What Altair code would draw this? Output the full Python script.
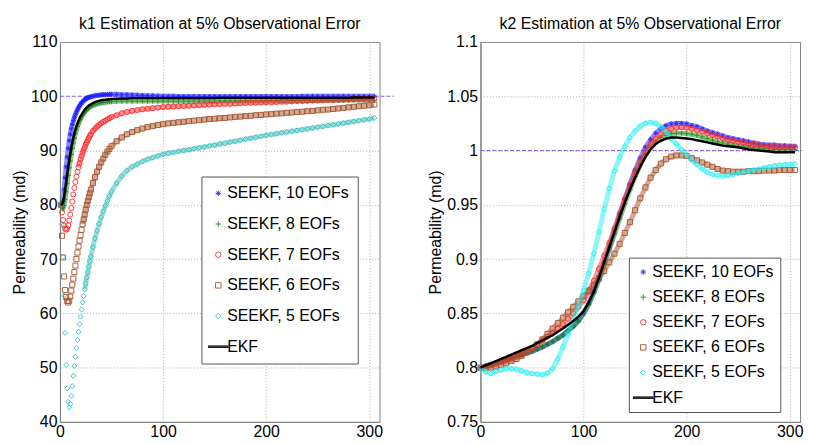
import altair as alt
import pandas as pd

FONT = "Liberation Sans"
FS = 16

SERIES = ["SEEKF, 10 EOFs", "SEEKF, 8 EOFs", "SEEKF, 7 EOFs", "SEEKF, 6 EOFs", "SEEKF, 5 EOFs", "EKF"]

# ---------------- k1 panel (left) ----------------
T_LEFT = list(range(1, 31)) + list(range(32, 51, 2)) + list(range(55, 306, 5))

K1_10 = [80.0, 79.8, 80.6, 82.8, 85.0, 87.0, 88.8, 90.4, 91.8, 93.0,
         94.0, 94.8, 95.5, 96.1, 96.6, 97.1, 97.5, 97.9, 98.2, 98.5,
         98.8, 99.0, 99.2, 99.35, 99.5, 99.6, 99.7, 99.8, 99.85, 99.9,
         100.0, 100.1, 100.15, 100.2, 100.25, 100.3, 100.3, 100.3, 100.35, 100.35,
         100.35, 100.3, 100.3, 100.25, 100.2, 100.15, 100.1, 100.1, 100.05, 100.0,
         100.0, 100.0, 99.95, 99.95, 99.95, 99.95, 99.95, 99.95, 99.95, 99.95,
         99.95, 99.95, 99.95, 99.95, 99.95, 99.95, 99.95, 99.95, 99.95, 99.95,
         99.95, 99.95, 99.95, 99.95, 99.95, 99.95, 100.0, 100.0, 100.0, 100.0,
         100.0, 100.0, 100.0, 100.0, 100.0, 100.0, 100.0, 100.0, 100.0, 100.0, 100.0]
K1_8 = [80.0, 79.6, 79.4, 79.9, 81.0, 82.4, 83.9, 85.4, 86.8, 88.1,
        89.3, 90.4, 91.4, 92.3, 93.1, 93.8, 94.4, 94.9, 95.4, 95.8,
        96.2, 96.5, 96.8, 97.1, 97.3, 97.5, 97.7, 97.85, 98.0, 98.1,
        98.3, 98.45, 98.6, 98.7, 98.8, 98.85, 98.9, 98.95, 99.0, 99.0,
        99.05, 99.1, 99.1, 99.1, 99.1, 99.1, 99.1, 99.1, 99.1, 99.1,
        99.1, 99.1, 99.1, 99.1, 99.1, 99.1, 99.1, 99.1, 99.1, 99.1,
        99.15, 99.15, 99.15, 99.15, 99.15, 99.15, 99.15, 99.15, 99.15, 99.15,
        99.2, 99.2, 99.2, 99.2, 99.2, 99.2, 99.2, 99.2, 99.2, 99.2,
        99.25, 99.25, 99.25, 99.25, 99.25, 99.3, 99.3, 99.3, 99.3, 99.3, 99.3]
K1_7 = [80.0, 78.6, 77.2, 76.2, 75.6, 75.4, 75.6, 76.2, 77.1, 78.2,
        79.4, 80.6, 81.9, 83.1, 84.2, 85.2, 86.1, 86.9, 87.7, 88.4,
        89.0, 89.6, 90.1, 90.6, 91.1, 91.5, 91.9, 92.3, 92.7, 93.0,
        93.6, 94.0, 94.4, 94.75, 95.0, 95.3, 95.5, 95.75, 95.95, 96.15,
        96.5, 96.85, 97.1, 97.3, 97.45, 97.6, 97.7, 97.8, 97.9, 98.0,
        98.05, 98.1, 98.15, 98.2, 98.25, 98.3, 98.35, 98.4, 98.45, 98.5,
        98.55, 98.6, 98.6, 98.65, 98.7, 98.75, 98.8, 98.8, 98.85, 98.9,
        98.9, 98.95, 99.0, 99.0, 99.05, 99.1, 99.1, 99.15, 99.2, 99.2,
        99.25, 99.3, 99.3, 99.35, 99.4, 99.4, 99.45, 99.45, 99.5, 99.5, 99.5]
K1_6 = [80.0, 74.3, 70.3, 66.8, 64.3, 63.0, 62.3, 62.0, 62.3, 63.1,
        64.2, 65.3, 66.4, 67.6, 68.8, 70.0, 71.2, 72.3, 73.4, 74.4,
        75.4, 76.4, 77.3, 78.2, 79.1, 80.0, 80.7, 81.4, 82.1, 82.8,
        84.0, 85.1, 86.1, 87.0, 87.8, 88.5, 89.2, 89.8, 90.3, 90.8,
        91.7, 92.4, 93.0, 93.4, 93.75, 94.05, 94.3, 94.5, 94.7, 94.85,
        95.0, 95.1, 95.2, 95.3, 95.4, 95.5, 95.6, 95.7, 95.8, 95.85,
        95.95, 96.0, 96.1, 96.2, 96.25, 96.35, 96.4, 96.5, 96.55, 96.65,
        96.7, 96.8, 96.85, 96.95, 97.0, 97.1, 97.15, 97.25, 97.3, 97.4,
        97.5, 97.55, 97.65, 97.75, 97.85, 97.95, 98.05, 98.15, 98.25, 98.35, 98.45]
K1_5 = [80.0, 76.4, 70.4, 63.3, 56.4, 50.5, 46.2, 43.7, 42.7, 43.3,
        44.8, 46.6, 48.5, 50.3, 52.0, 53.6, 55.1, 56.6, 58.0, 59.4,
        60.7, 62.0, 63.2, 64.4, 65.5, 66.6, 67.6, 68.6, 69.6, 70.5,
        72.2, 73.8, 75.2, 76.5, 77.7, 78.8, 79.8, 80.7, 81.6, 82.4,
        84.0, 85.3, 86.3, 87.0, 87.5, 88.0, 88.4, 88.7, 89.0, 89.3,
        89.5, 89.65, 89.85, 90.0, 90.15, 90.35, 90.5, 90.65, 90.85, 91.0,
        91.2, 91.35, 91.55, 91.7, 91.9, 92.1, 92.25, 92.45, 92.6, 92.8,
        92.95, 93.1, 93.25, 93.4, 93.55, 93.7, 93.85, 94.0, 94.15, 94.3,
        94.45, 94.6, 94.75, 94.9, 95.05, 95.2, 95.35, 95.5, 95.65, 95.8, 96.0]
K1_EKF = [80.0, 80.1, 80.6, 81.5, 82.7, 84.1, 85.5, 86.9, 88.2, 89.4,
          90.5, 91.5, 92.4, 93.2, 93.9, 94.5, 95.0, 95.5, 95.9, 96.3,
          96.6, 96.9, 97.2, 97.5, 97.7, 97.9, 98.1, 98.3, 98.4, 98.5,
          98.75, 98.9, 99.05, 99.15, 99.25, 99.3, 99.35, 99.4, 99.45, 99.5,
          99.55, 99.6, 99.6, 99.65, 99.65, 99.65, 99.65, 99.65, 99.65, 99.65,
          99.65, 99.65, 99.65, 99.65, 99.65, 99.65, 99.65, 99.65, 99.65, 99.65,
          99.7, 99.7, 99.7, 99.7, 99.7, 99.7, 99.7, 99.7, 99.7, 99.7,
          99.7, 99.7, 99.7, 99.7, 99.7, 99.7, 99.7, 99.7, 99.7, 99.7,
          99.7, 99.7, 99.7, 99.7, 99.7, 99.7, 99.75, 99.75, 99.75, 99.75, 99.75]

# ---------------- k2 panel (right) ----------------
T_RIGHT = list(range(0, 306, 5))

K2_10 = [0.800, 0.8015, 0.803, 0.8045, 0.806, 0.8075, 0.809, 0.8105, 0.812, 0.8135,
         0.815, 0.817, 0.819, 0.8215, 0.824, 0.827, 0.830, 0.834, 0.838, 0.843,
         0.850, 0.859, 0.870, 0.883, 0.897, 0.911, 0.926, 0.941, 0.955, 0.969,
         0.982, 0.993, 1.003, 1.010, 1.016, 1.020, 1.023, 1.0245, 1.025, 1.025,
         1.0245, 1.023, 1.022, 1.020, 1.018, 1.0165, 1.015, 1.0135, 1.012, 1.011,
         1.010, 1.009, 1.008, 1.007, 1.006, 1.0055, 1.005, 1.005, 1.0045, 1.0045,
         1.004, 1.004]
K2_8 = [0.800, 0.8015, 0.803, 0.8045, 0.806, 0.8075, 0.809, 0.8105, 0.812, 0.8135,
        0.815, 0.817, 0.819, 0.8215, 0.824, 0.827, 0.830, 0.834, 0.838, 0.843,
        0.850, 0.858, 0.869, 0.881, 0.895, 0.909, 0.923, 0.937, 0.951, 0.964,
        0.976, 0.987, 0.996, 1.003, 1.008, 1.012, 1.014, 1.0155, 1.016, 1.016,
        1.0155, 1.015, 1.014, 1.0125, 1.011, 1.0095, 1.008, 1.007, 1.006, 1.005,
        1.004, 1.0035, 1.003, 1.0025, 1.002, 1.0015, 1.0015, 1.001, 1.001, 1.001,
        1.001, 1.001]
K2_7 = [0.800, 0.801, 0.802, 0.8035, 0.805, 0.8065, 0.808, 0.810, 0.812, 0.815,
        0.818, 0.8215, 0.825, 0.8285, 0.832, 0.836, 0.840, 0.845, 0.850, 0.856,
        0.862, 0.870, 0.880, 0.891, 0.903, 0.915, 0.928, 0.942, 0.955, 0.968,
        0.980, 0.990, 0.999, 1.006, 1.011, 1.015, 1.018, 1.020, 1.021, 1.0215,
        1.021, 1.020, 1.019, 1.0175, 1.016, 1.0145, 1.013, 1.0115, 1.010, 1.009,
        1.008, 1.007, 1.006, 1.0055, 1.005, 1.0045, 1.004, 1.0035, 1.003, 1.003,
        1.003, 1.003]
K2_6 = [0.800, 0.7995, 0.800, 0.801, 0.8025, 0.804, 0.806, 0.808, 0.811, 0.814,
        0.8175, 0.8215, 0.826, 0.831, 0.836, 0.841, 0.846, 0.851, 0.856, 0.861,
        0.866, 0.871, 0.876, 0.882, 0.889, 0.897, 0.905, 0.914, 0.924, 0.934,
        0.945, 0.956, 0.966, 0.975, 0.982, 0.988, 0.992, 0.9945, 0.9955, 0.9955,
        0.995, 0.993, 0.991, 0.989, 0.987, 0.985, 0.983, 0.9815, 0.981, 0.9805,
        0.9805, 0.9805, 0.981, 0.981, 0.981, 0.9815, 0.9815, 0.9815, 0.982, 0.982,
        0.982, 0.982]
K2_5 = [0.800, 0.796, 0.7945, 0.7965, 0.798, 0.799, 0.799, 0.7985, 0.797, 0.7955,
        0.7945, 0.794, 0.7935, 0.795, 0.799, 0.808, 0.819, 0.831, 0.844, 0.857,
        0.871, 0.887, 0.905, 0.925, 0.946, 0.965, 0.981, 0.994, 1.004, 1.012,
        1.018, 1.0225, 1.025, 1.026, 1.025, 1.022, 1.017, 1.011, 1.006, 1.001,
        0.996, 0.991, 0.987, 0.983, 0.980, 0.978, 0.977, 0.9765, 0.977, 0.978,
        0.979, 0.980, 0.981, 0.982, 0.983, 0.984, 0.985, 0.986, 0.9865, 0.987,
        0.987, 0.9875]
K2_EKF = [0.800, 0.802, 0.804, 0.806, 0.808, 0.810, 0.812, 0.814, 0.816, 0.818,
          0.820, 0.8225, 0.825, 0.8275, 0.830, 0.833, 0.836, 0.8395, 0.843, 0.847,
          0.852, 0.860, 0.870, 0.883, 0.897, 0.911, 0.925, 0.939, 0.952, 0.964,
          0.975, 0.985, 0.994, 1.001, 1.006, 1.009, 1.011, 1.012, 1.012, 1.0115,
          1.011, 1.0105, 1.0095, 1.0085, 1.0075, 1.0065, 1.0055, 1.0045, 1.004, 1.0035,
          1.003, 1.002, 1.001, 1.0005, 1.0, 0.9995, 0.999, 0.9985, 0.9985, 0.9985,
          0.9985, 0.9985]

K1_TICKS = [40, 50, 60, 70, 80, 90, 100, 110]
K2_TICKS = [0.75, 0.8, 0.85, 0.9, 0.95, 1.0, 1.05, 1.1]
X_TICKS = [0, 100, 200, 300]
TRUE_K1 = 100
TRUE_K2 = 1.0

COLORS_L = ["#1f1fff", "#1a8c1a", "#ff2a2a", "#a5522a", "#35bcbc", "#000000"]
COLORS_R = ["#1f1fff", "#1a8c1a", "#ff2a2a", "#a5522a", "#1ef0f0", "#000000"]

STAR = "M-1,0L1,0M0,-1L0,1M-0.7,-0.7L0.7,0.7M-0.7,0.7L0.7,-0.7"
PLUS = "M-1,0L1,0M0,-1L0,1"
EKF_SYM = "M-3.8,-0.3L3.8,-0.3M-3.8,0L3.8,0M-3.8,0.3L3.8,0.3"
SHAPES = [STAR, PLUS, "circle", "square", "diamond", EKF_SYM]


def panel(T, series_vals, ekf_vals, colors, title, ydom, yticks, yfmt, true_val, rule_end,
          band_start, lx, ly, lpad, lrow):
    rows = []
    for name, vals in zip(SERIES[:5], series_vals):
        for t, v in zip(T, vals):
            rows.append({"t": t, "v": v, "series": name})
    df = pd.DataFrame(rows)
    ekf = pd.DataFrame({"t": T, "v": ekf_vals})
    truth = pd.DataFrame({"t": [0], "t2": [rule_end], "v": [true_val]})

    x = alt.X("t:Q", scale=alt.Scale(domain=[0, 310], nice=False, zero=False),
              axis=alt.Axis(values=X_TICKS, title=None, format="d", labelPadding=2))
    y = alt.Y("v:Q", scale=alt.Scale(domain=ydom, nice=False, zero=False),
              axis=alt.Axis(values=yticks, format=yfmt, title="Permeability (md)"))

    leg = alt.Legend(title=None, orient="none", legendX=lx, legendY=ly,
                     labelFontSize=FS, labelFont=FONT, labelColor="black",
                     symbolSize=30, symbolStrokeWidth=1, strokeColor="#555555",
                     fillColor="white", padding=lpad, rowPadding=lrow, labelOffset=1,
                     symbolOffset=0, labelLimit=300)
    color = alt.Color("series:N", scale=alt.Scale(domain=SERIES, range=colors), legend=leg)
    shape = alt.Shape("series:N", scale=alt.Scale(domain=SERIES, range=SHAPES), legend=leg)

    layers = [alt.Chart(truth).mark_rule(color="#8a62e0", strokeDash=[4, 2], strokeWidth=1.2)
              .encode(x=x, x2="t2:Q", y=y)]
    base = alt.Chart(df)
    for name, c, bs in zip(SERIES[:5], colors[:5], band_start):
        layers.append(base.transform_filter((alt.datum.series == name) & (alt.datum.t >= bs))
                      .mark_line(color=c, strokeWidth=5, opacity=0.5)
                      .encode(x=x, y=y))
        layers.append(base.transform_filter(alt.datum.series == name)
                      .mark_point(filled=False, size=26, strokeWidth=1, opacity=0.9)
                      .encode(x=x, y=y, color=color, shape=shape))
    layers.append(alt.Chart(ekf).mark_line(color="black", strokeWidth=2.5).encode(x=x, y=y))

    return alt.layer(*layers).properties(
        width=323, height=384,
        title=alt.TitleParams(title, font=FONT, fontSize=FS, fontWeight="normal",
                              color="black", offset=2, frame="group"))


left = panel(T_LEFT, [K1_10, K1_8, K1_7, K1_6, K1_5], K1_EKF, COLORS_L,
             "k1 Estimation at 5% Observational Error", [40, 110], K1_TICKS, "d", TRUE_K1, 324,
             [1, 1, 18, 22, 24], 143, 136, 9, 15)
right = panel(T_RIGHT, [K2_10, K2_8, K2_7, K2_6, K2_5], K2_EKF, COLORS_R,
              "k2 Estimation at 5% Observational Error", [0.75, 1.1], K2_TICKS, "~g", TRUE_K2, 312,
              [0, 0, 0, 0, 0], 150, 218, 6.5, 9.4)

chart = alt.hconcat(left, right, spacing=102, bounds="flush").resolve_scale(
    color="independent", shape="independent"
).properties(
    padding={"left": 2.5, "top": 5, "right": 0, "bottom": 0}
).configure_view(
    stroke="#808080", strokeWidth=1
).configure_axis(
    labelFont=FONT, labelFontSize=FS, labelColor="black", labelPadding=3,
    titleFont=FONT, titleFontSize=FS, titleFontWeight="normal", titleColor="black",
    titlePadding=3, grid=True, gridColor="#b0b0b0", gridDash=[1, 2], gridWidth=1,
    domainColor="#808080", ticks=False, labelFlush=False
)

chart.save("out.html", embed_options={"renderer": "svg", "actions": False})
